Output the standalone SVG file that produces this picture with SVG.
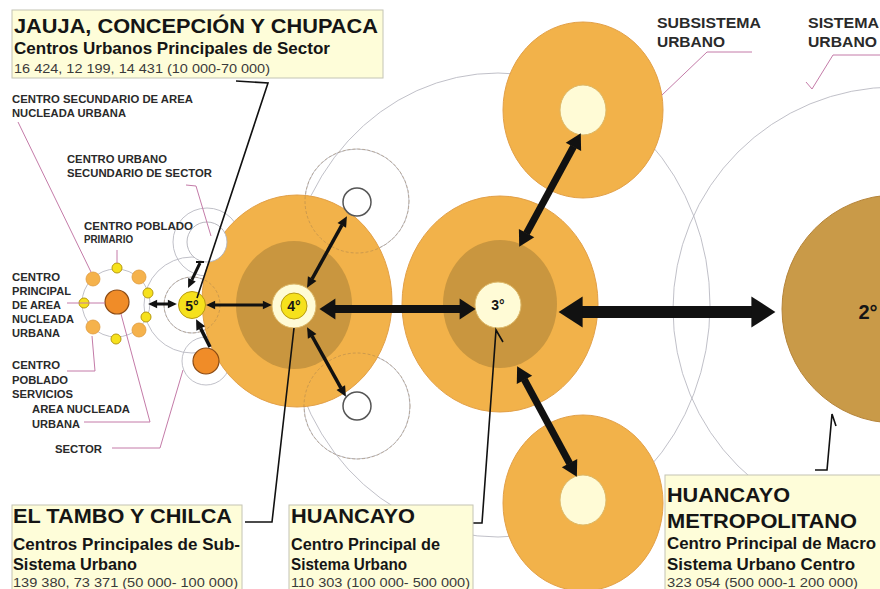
<svg xmlns="http://www.w3.org/2000/svg" width="880" height="589" viewBox="0 0 880 589">
<style>
.t{font-family:"Liberation Sans",Arial,sans-serif;fill:#151515}
.b{font-weight:bold}
.n{font-family:"Liberation Sans",Arial,sans-serif;fill:#3a3a3a;font-size:13px}
.lab{font-family:"Liberation Sans",Arial,sans-serif;font-weight:bold;font-size:10px;fill:#2a2a2a}
.lab2{font-family:"Liberation Sans",Arial,sans-serif;font-weight:bold;font-size:14px;fill:#2a2a2a}
.ring{fill:none;stroke:#b9b9c2;stroke-width:0.9}
.dash{fill:none;stroke:#9a7a50;stroke-width:0.8;stroke-dasharray:3 2;opacity:.55}
.or{fill:#F2B24A;stroke:#E2A048;stroke-width:1}
.dk{fill:#C9963F}
.cr{fill:#FFFBD6;stroke:#DDB868;stroke-width:1}
.wh{fill:#fff;stroke:#555;stroke-width:1.5}
.yl{fill:#F6E11C;stroke:#B89A10;stroke-width:1}
.od{fill:#F5B24C;stroke:#DF9A3C;stroke-width:0.8}
.big{fill:#F08C28;stroke:#8a4a14;stroke-width:1.2}
.box{fill:#FEFDD9;stroke:#c4c4b4;stroke-width:1}
.ld{fill:none;stroke:#C47BA8;stroke-width:1}
.bl{fill:none;stroke:#111;stroke-width:1.6}
.ar{stroke:#111;fill:none}
.deg{font-family:"Liberation Sans",Arial,sans-serif;font-weight:bold;fill:#151515;text-anchor:middle}
</style>
<defs>
<marker id="hb" markerUnits="strokeWidth" markerWidth="2" markerHeight="2.6" refX="0.05" refY="1.3" orient="auto-start-reverse" overflow="visible"><path d="M0,0 L2,1.3 L0,2.6 z" fill="#111"/></marker>
<marker id="hm" markerUnits="strokeWidth" markerWidth="2.2" markerHeight="2.5" refX="0.05" refY="1.25" orient="auto-start-reverse" overflow="visible"><path d="M0,0 L2.2,1.25 L0,2.5 z" fill="#111"/></marker>
<marker id="hs" markerUnits="strokeWidth" markerWidth="3" markerHeight="2.8" refX="0.05" refY="1.4" orient="auto-start-reverse" overflow="visible"><path d="M0,0 L3,1.4 L0,2.8 z" fill="#111"/></marker>
</defs>

<rect width="880" height="589" fill="#fff"/>

<!-- background guide circles -->
<g id="guides">
  <ellipse class="ring" cx="498" cy="305" rx="212" ry="232"/>
  <circle class="ring" cx="895" cy="309" r="222"/>
  <circle class="ring" cx="357" cy="201" r="52"/>
  <circle class="ring" cx="357" cy="406" r="53"/>
  <circle class="ring" cx="192" cy="305" r="48"/>
  <circle class="ring" cx="192" cy="305" r="28"/>
  <circle class="ring" cx="207" cy="242" r="34"/>
  <circle class="ring" cx="206" cy="361" r="24"/>
  <circle class="ring" cx="116" cy="303" r="34"/>
</g>

<g id="node-2">
  <ellipse cx="895" cy="309" rx="113" ry="114" fill="#C99A48" stroke="#B5843A" stroke-width="1"/>
  <text class="deg" x="868" y="319" font-size="20">2°</text>
</g>

<g id="node-sub-top">
  <ellipse class="or" cx="583" cy="110" rx="80" ry="88"/>
  <ellipse class="cr" cx="583" cy="110" rx="23" ry="25"/>
</g>

<g id="node-sub-bottom">
  <ellipse class="or" cx="583" cy="503" rx="80" ry="88"/>
  <ellipse class="cr" cx="583" cy="500" rx="23" ry="25"/>
</g>

<g id="node-3">
  <ellipse class="or" cx="500" cy="304" rx="98" ry="108"/>
  <ellipse class="dk" cx="500" cy="304" rx="57" ry="64"/>
  <circle class="cr" cx="498" cy="305" r="23"/>
  <text class="deg" x="498" y="310" font-size="14">3°</text>
</g>

<g id="node-4">
  <ellipse class="or" cx="297" cy="301" rx="95" ry="106"/>
  <ellipse class="dk" cx="294" cy="305" rx="58" ry="64"/>
  <circle class="dash" cx="357" cy="201" r="52"/>
  <circle class="dash" cx="357" cy="406" r="53"/>
  <circle class="cr" cx="294" cy="306" r="22"/>
  <circle class="yl" cx="294" cy="306" r="13"/>
  <text class="deg" x="294" y="311" font-size="14">4°</text>
</g>

<g id="node-4-top">
  <circle class="wh" cx="357" cy="202" r="14"/>
</g>
<g id="node-4-bottom">
  <circle class="wh" cx="357" cy="406" r="14"/>
</g>

<g id="node-5">
  <circle class="dash" cx="192" cy="305" r="28"/>
  <circle fill="#fff" stroke="#b0b0b8" stroke-width="0.9" cx="207" cy="242" r="20"/>
  <circle class="yl" cx="192" cy="305" r="13.5"/>
  <text class="deg" x="192" y="311" font-size="14">5°</text>
</g>

<g id="node-5-orange">
  <circle class="big" cx="206" cy="361" r="13"/>
</g>

<g id="node-cluster">
  <circle class="big" cx="117" cy="302" r="12"/>
  <circle class="yl" cx="117" cy="268" r="5"/>
  <circle class="od" cx="93" cy="279" r="7"/>
  <circle class="od" cx="139" cy="277" r="7"/>
  <circle class="yl" cx="148" cy="293" r="5"/>
  <circle class="yl" cx="84" cy="303" r="5"/>
  <circle class="yl" cx="146" cy="317" r="5"/>
  <circle class="od" cx="93" cy="327" r="7"/>
  <circle class="od" cx="139" cy="330" r="7"/>
  <circle class="yl" cx="116" cy="339" r="5"/>
</g>

<g id="connectors">
  <line class="ar" x1="582" y1="312" x2="752" y2="312" stroke-width="12" marker-start="url(#hb)" marker-end="url(#hb)"/>
  <line class="ar" x1="335" y1="309" x2="460" y2="309" stroke-width="8" marker-start="url(#hb)" marker-end="url(#hb)"/>
  <line class="ar" x1="526.4" y1="233.5" x2="573.6" y2="146.5" stroke-width="7" marker-start="url(#hm)" marker-end="url(#hm)"/>
  <line class="ar" x1="524.3" y1="379.5" x2="569.7" y2="463.5" stroke-width="7" marker-start="url(#hm)" marker-end="url(#hm)"/>
  <line class="ar" x1="312.1" y1="278.8" x2="341.9" y2="225.2" stroke-width="3.5" marker-start="url(#hs)" marker-end="url(#hs)"/>
  <line class="ar" x1="312.1" y1="336.2" x2="340.9" y2="387.8" stroke-width="3.5" marker-start="url(#hs)" marker-end="url(#hs)"/>
  <line class="ar" x1="157" y1="304" x2="168" y2="304" stroke-width="3" marker-start="url(#hs)" marker-end="url(#hs)"/>
  <line class="ar" x1="215" y1="305" x2="263" y2="305" stroke-width="3" marker-start="url(#hs)" marker-end="url(#hs)"/>
  <line class="ar" x1="200" y1="263" x2="191.9" y2="279.9" stroke-width="3" marker-end="url(#hs)"/>
  <line class="ar" x1="196" y1="262" x2="204" y2="262" stroke-width="2"/>
  <line class="ar" x1="200.7" y1="328.4" x2="210" y2="347" stroke-width="3.5" marker-start="url(#hs)"/>

  <!-- black leader lines -->
  <path class="bl" d="M236,81 L268,83 L197,298"/>
  <path class="bl" d="M245,522 L272,522 L294,328"/>
  <path class="bl" d="M470,523 L482,523 L496,330 L503,342"/>
  <path class="bl" d="M815,470 L827,470 L832,414 L836,426"/>

  <!-- pink leader lines -->
  <path class="ld" d="M18,122 L91,272"/>
  <path class="ld" d="M117,250 L117,263"/>
  <path class="ld" d="M186,185 L196,186 L211,236"/>
  <path class="ld" d="M67,303 L105,303"/>
  <path class="ld" d="M67,371 L95,371 L92,336"/>
  <path class="ld" d="M84,422 L150,422 L121,314"/>
  <path class="ld" d="M112,448 L160,448 L183,370"/>
  <path class="ld" d="M752,52 L707,52 L662,95"/>
  <path class="ld" d="M880,55 L833,55 L812,89 L806,82"/>
</g>

<g id="label-jauja">
  <rect class="box" x="12" y="10" width="371" height="68"/>
  <text class="t b" x="14" y="33" font-size="21" textLength="364" lengthAdjust="spacingAndGlyphs">JAUJA, CONCEPCIÓN Y CHUPACA</text>
  <text class="t b" x="14" y="54" font-size="16.5" textLength="316" lengthAdjust="spacingAndGlyphs">Centros Urbanos Principales de Sector</text>
  <text class="n" x="14" y="73" textLength="256" lengthAdjust="spacingAndGlyphs">16 424, 12 199, 14 431 (10 000-70 000)</text>
</g>

<g id="label-tambo">
  <rect class="box" x="12" y="505" width="230" height="90"/>
  <text class="t b" x="13" y="523" font-size="21" textLength="219" lengthAdjust="spacingAndGlyphs">EL TAMBO Y CHILCA</text>
  <text class="t b" x="13" y="550" font-size="16.5" textLength="227" lengthAdjust="spacingAndGlyphs">Centros Principales de Sub-</text>
  <text class="t b" x="13" y="570" font-size="16.5" textLength="124" lengthAdjust="spacingAndGlyphs">Sistema Urbano</text>
  <text class="n" x="13" y="587" textLength="225" lengthAdjust="spacingAndGlyphs">139 380, 73 371 (50 000- 100 000)</text>
</g>

<g id="label-huancayo">
  <rect class="box" x="289" y="505" width="184" height="90"/>
  <text class="t b" x="291" y="523" font-size="21" textLength="124" lengthAdjust="spacingAndGlyphs">HUANCAYO</text>
  <text class="t b" x="291" y="550" font-size="16" textLength="149" lengthAdjust="spacingAndGlyphs">Centro Principal de</text>
  <text class="t b" x="291" y="570" font-size="16" textLength="116" lengthAdjust="spacingAndGlyphs">Sistema Urbano</text>
  <text class="n" x="291" y="587" textLength="179" lengthAdjust="spacingAndGlyphs">110 303 (100 000- 500 000)</text>
</g>

<g id="label-metro">
  <rect class="box" x="665" y="475" width="220" height="120"/>
  <text class="t b" x="667" y="502" font-size="21" textLength="123" lengthAdjust="spacingAndGlyphs">HUANCAYO</text>
  <text class="t b" x="667" y="528" font-size="21" textLength="190" lengthAdjust="spacingAndGlyphs">METROPOLITANO</text>
  <text class="t b" x="667" y="549" font-size="16" textLength="209" lengthAdjust="spacingAndGlyphs">Centro Principal de Macro</text>
  <text class="t b" x="667" y="570" font-size="16" textLength="188" lengthAdjust="spacingAndGlyphs">Sistema Urbano Centro</text>
  <text class="n" x="667" y="587" textLength="191" lengthAdjust="spacingAndGlyphs">323 054 (500 000-1 200 000)</text>
</g>

<g id="labels-small">
  <text class="lab" x="12" y="103" textLength="181" lengthAdjust="spacingAndGlyphs">CENTRO SECUNDARIO DE AREA</text>
  <text class="lab" x="12" y="117" textLength="114" lengthAdjust="spacingAndGlyphs">NUCLEADA URBANA</text>
  <text class="lab" x="67" y="163" textLength="100" lengthAdjust="spacingAndGlyphs">CENTRO URBANO</text>
  <text class="lab" x="67" y="177" textLength="145" lengthAdjust="spacingAndGlyphs">SECUNDARIO DE SECTOR</text>
  <text class="lab" x="84" y="230" textLength="109" lengthAdjust="spacingAndGlyphs">CENTRO POBLADO</text>
  <text class="lab" x="84" y="243" textLength="49" lengthAdjust="spacingAndGlyphs">PRIMARIO</text>
  <text class="lab" x="12" y="281" textLength="48" lengthAdjust="spacingAndGlyphs">CENTRO</text>
  <text class="lab" x="12" y="295" textLength="59" lengthAdjust="spacingAndGlyphs">PRINCIPAL</text>
  <text class="lab" x="12" y="309" textLength="49" lengthAdjust="spacingAndGlyphs">DE AREA</text>
  <text class="lab" x="12" y="323" textLength="62" lengthAdjust="spacingAndGlyphs">NUCLEADA</text>
  <text class="lab" x="12" y="337" textLength="48" lengthAdjust="spacingAndGlyphs">URBANA</text>
  <text class="lab" x="12" y="369" textLength="48" lengthAdjust="spacingAndGlyphs">CENTRO</text>
  <text class="lab" x="12" y="384" textLength="56" lengthAdjust="spacingAndGlyphs">POBLADO</text>
  <text class="lab" x="12" y="398" textLength="61" lengthAdjust="spacingAndGlyphs">SERVICIOS</text>
  <text class="lab" x="32" y="413" textLength="98" lengthAdjust="spacingAndGlyphs">AREA NUCLEADA</text>
  <text class="lab" x="32" y="428" textLength="48" lengthAdjust="spacingAndGlyphs">URBANA</text>
  <text class="lab" x="55" y="453" textLength="47" lengthAdjust="spacingAndGlyphs">SECTOR</text>
  <text class="lab2" x="657" y="28" textLength="104" lengthAdjust="spacingAndGlyphs">SUBSISTEMA</text>
  <text class="lab2" x="657" y="47" textLength="68" lengthAdjust="spacingAndGlyphs">URBANO</text>
  <text class="lab2" x="808" y="28" textLength="71" lengthAdjust="spacingAndGlyphs">SISTEMA</text>
  <text class="lab2" x="808" y="47" textLength="69" lengthAdjust="spacingAndGlyphs">URBANO</text>
</g>
</svg>
